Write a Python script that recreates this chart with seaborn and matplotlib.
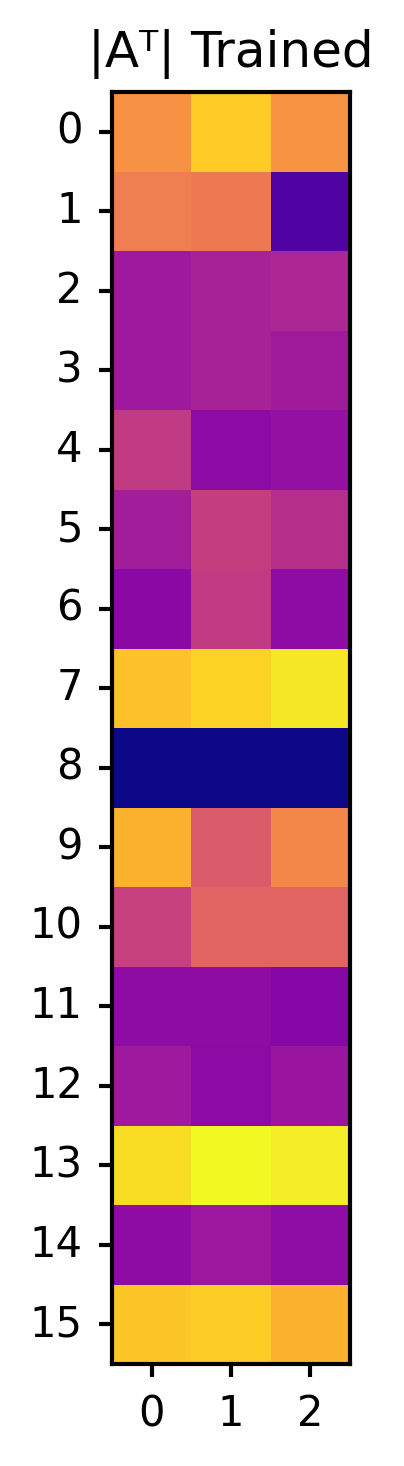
import numpy as np
import matplotlib
matplotlib.use("Agg")
import matplotlib.pyplot as plt
import seaborn as sns

rows = list(range(16))
cols = list(range(3))
col0 = [0.74, 0.68, 0.34, 0.34, 0.46, 0.355, 0.285, 0.87, 0.00, 0.83, 0.48, 0.295, 0.34, 0.93, 0.295, 0.88]
col1 = [0.89, 0.665, 0.37, 0.37, 0.29, 0.47, 0.46, 0.91, 0.00, 0.57, 0.60, 0.295, 0.29, 1.00, 0.335, 0.90]
col2 = [0.745, 0.14, 0.385, 0.345, 0.31, 0.42, 0.295, 0.96, 0.00, 0.71, 0.60, 0.27, 0.325, 0.97, 0.30, 0.83]

data = np.array([col0, col1, col2]).T

fig = plt.figure(figsize=(404/300, 1466/300), dpi=300)
ax = fig.add_axes([112/404, 1 - 1364/1466, 238/404, 1272/1466])
sns.heatmap(data, ax=ax, cmap="plasma", vmin=0, vmax=1, cbar=False,
            xticklabels=cols, yticklabels=rows)
ax.set_title("|Aᵀ| Trained", fontsize=12)
ax.tick_params(axis="both", labelsize=10, length=3.2, width=1.0, pad=3.8)
ax.tick_params(axis="y", rotation=0)
ax.tick_params(axis="x", rotation=0)
for s in ax.spines.values():
    s.set_visible(True)
    s.set_linewidth(1.0)
fig.savefig("out.png", dpi=300)
